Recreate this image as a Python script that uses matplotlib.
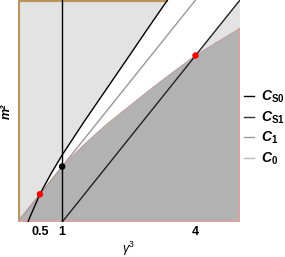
import matplotlib
matplotlib.use('Agg')
from matplotlib import pyplot as plt

plt.rcParams['font.family'] = ['Liberation Sans', 'DejaVu Sans']
plt.rcParams['mathtext.fontset'] = 'custom'
plt.rcParams['mathtext.rm'] = 'Liberation Sans'
plt.rcParams['mathtext.it'] = 'Liberation Sans:italic'
plt.rcParams['mathtext.bf'] = 'Liberation Sans:bold'
plt.rcParams['mathtext.bfit'] = 'Liberation Sans:bold:italic'

# curves (x = gamma^3, y = m^2)
x_cs0 = [0.23, 0.3, 0.4, 0.5, 0.75, 1.0, 1.5, 2.0, 2.5, 2.88, 3.37]
y_cs0 = [0.0, 0.17, 0.40, 0.63, 1.09, 1.51, 2.27, 3.0, 3.73, 4.29, 5.0]

x_c1 = [0.0, 4.0]
y_c1 = [0.0, 5.0]

x_cs1 = [1.0, 5.0]
y_cs1 = [0.0, 5.0]

x_c0 = [0.0, 0.5, 1.0, 1.5, 2.0, 2.5, 3.0, 3.5, 4.0, 4.5, 5.0]
y_c0 = [0.0, 0.625, 1.25, 1.75, 2.2, 2.6, 3.0, 3.38, 3.75, 4.06, 4.36]

red_x, red_y = [0.5, 4.0], [0.625, 3.75]
blk_x, blk_y = [1.0], [1.25]

xticks = [0.5, 1, 4]
xticklabels = ['0.5', '1', '4']

fig = plt.figure(figsize=(2.85, 2.57), dpi=100)
ax = fig.add_axes([0.0621, 0.136, 0.780, 0.864])
ax.set_xlim(0, 5)
ax.set_ylim(0, 5)

# light region left of C_S0
px = [0, 0] + x_cs0[::-1] + [0]
py = [0, 5] + y_cs0[::-1] + [0]
ax.fill(px, py, facecolor='#e3e3e3', edgecolor='none', zorder=1)
ax.plot([0, 0, x_cs0[-1]], [0, 5, 5], c='#b8965a', lw=3, zorder=1,
        solid_capstyle='butt')

# light triangle top right, between C_S1 and C_0
tx = [4.0, 5.0] + [x for x in x_c0[::-1] if x >= 4.0]
ty = [3.75, 5.0] + [y for x, y in zip(x_c0[::-1], y_c0[::-1]) if x >= 4.0]
ax.fill(tx, ty, facecolor='#e3e3e3', edgecolor='none', zorder=1)

# dark region under C_0
ax.fill(x_c0 + [5, 0], y_c0 + [0, 0], facecolor='#b2b2b2',
        edgecolor='none', zorder=2)
ax.plot([0, 5, 5], [0, 0, y_c0[-1]], c='#d8a4a4', lw=2.6, zorder=2,
        solid_capstyle='butt')

ax.plot(x_cs0, y_cs0, c='black', lw=1.0, zorder=4)
ax.plot(x_cs1, y_cs1, c='#222222', lw=1.0, zorder=4)
ax.plot(x_c1, y_c1, c='#999999', lw=1.0, zorder=3)
ax.plot(x_c0, y_c0, c='#bfa0a0', lw=0.8, zorder=3)
ax.axvline(1, c='black', lw=1.0, zorder=4)

ax.scatter(red_x, red_y, s=22, c='red', zorder=5, edgecolors='none')
ax.scatter(blk_x, blk_y, s=22, c='black', zorder=5, edgecolors='none')

for s in ax.spines.values():
    s.set_visible(False)
ax.set_xticks(xticks)
ax.set_xticklabels(xticklabels, fontsize=9, fontweight='bold')
ax.tick_params(axis='x', length=0, pad=3)
ax.set_yticks([])

ax.set_xlabel(r'$\gamma^{3}$', fontsize=9, labelpad=1)
ax.set_ylabel('m²', fontsize=9, fontstyle='italic', fontweight='bold')
ax.yaxis.set_label_coords(-0.024, 0.5)

leg_labels = [r'$\boldsymbol{C}_{\mathbf{S0}}$', r'$\boldsymbol{C}_{\mathbf{S1}}$',
              r'$\boldsymbol{C}_{\mathbf{1}}$', r'$\boldsymbol{C}_{\mathbf{0}}$']
leg_colors = ['black', '#333333', '#999999', '#bbbbbb']
handles = [plt.Line2D([], [], c=c, lw=1.0) for c in leg_colors]
fig.legend(handles, leg_labels, loc='center left',
           bbox_to_anchor=(244 / 285, 1 - 128 / 257),
           frameon=False, handlelength=0.7, handletextpad=0.5,
           labelspacing=0.3, fontsize=10, borderpad=0, borderaxespad=0)

plt.savefig('out.png', dpi=100)
